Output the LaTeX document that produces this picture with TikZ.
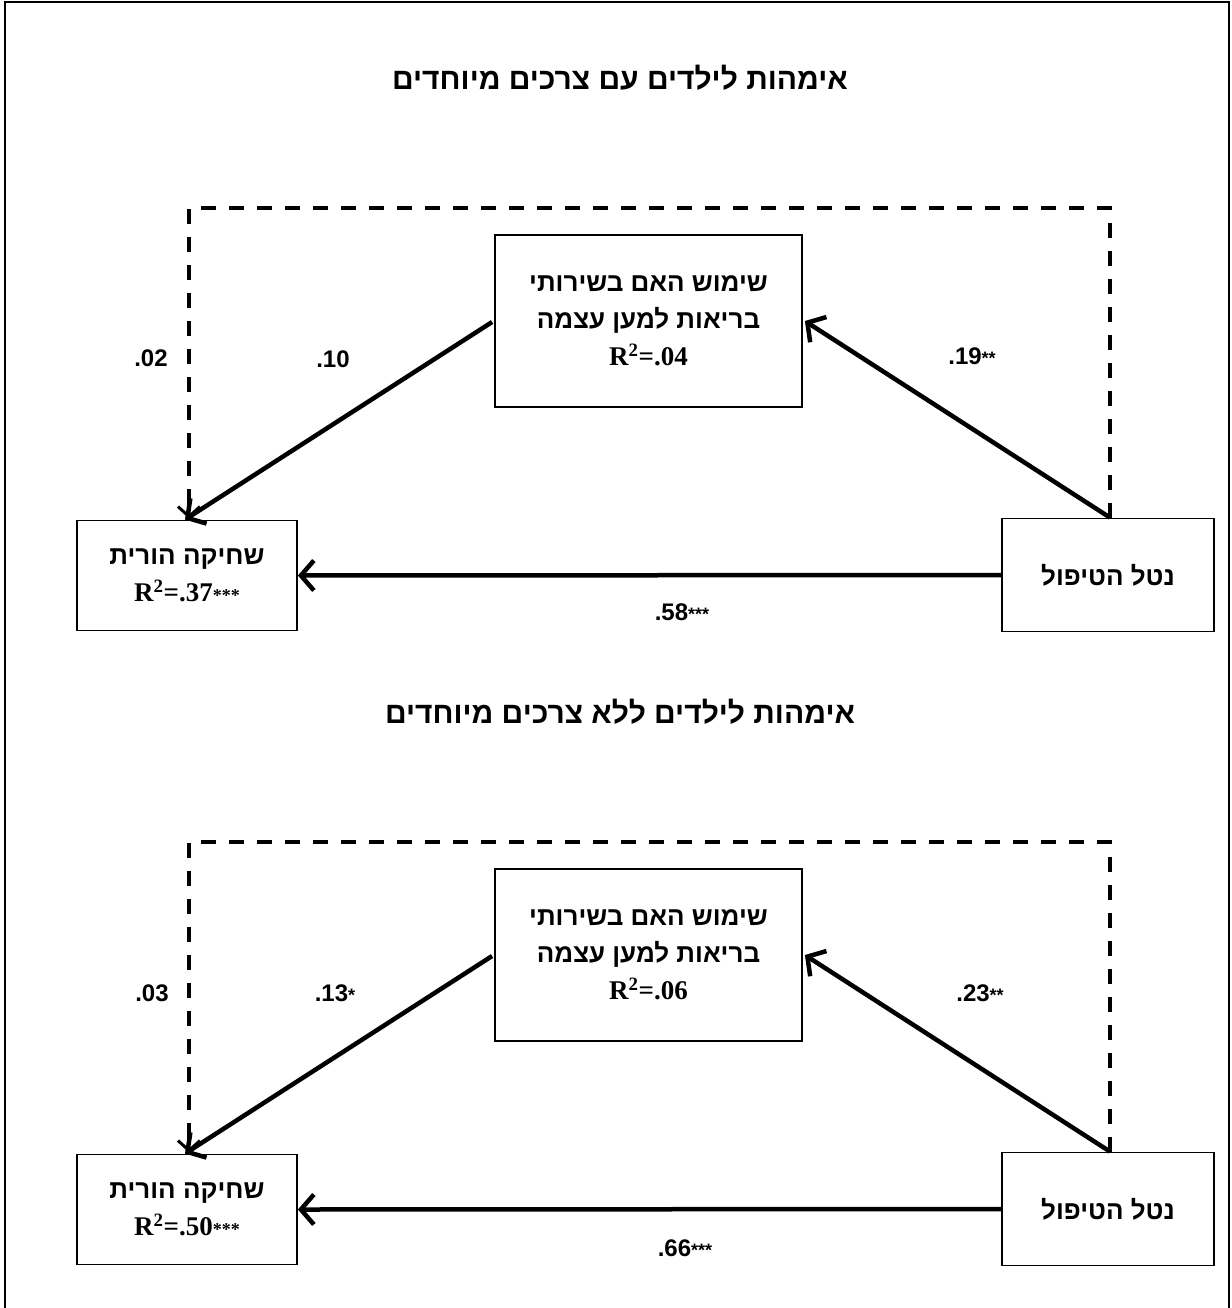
\documentclass[tikz,border=0pt]{standalone}
\usepackage{fontspec}
\usetikzlibrary{arrows.meta}
\TeXXeTstate=1
\setmainfont{Liberation Serif}
\newfontfamily\hebfont[Script=Hebrew,BoldFont={Liberation Sans Bold}]{Liberation Sans}
\newfontfamily\numfont{Liberation Sans}
\newcommand{\heb}[1]{\beginR #1\endR}
\newcommand{\stars}[1]{{\fontsize{18}{18}\selectfont #1}}
\newcommand{\rsq}[1]{{\rmfamily\bfseries\fontsize{27}{37}\selectfont R\textsuperscript{2}=#1}}
\tikzset{
  x=1pt, y=-1pt,
  box/.style={draw, line width=1.8pt, inner sep=0pt, align=center,
    font=\hebfont\bfseries\fontsize{26}{37}\selectfont},
  solidarrow/.style={line width=4.5pt, -{Straight Barb[length=13pt,width=30pt,line width=4.5pt]}},
  dasharrow/.style={line width=3.6pt, dash pattern=on 15pt off 13pt,
    -{Straight Barb[length=10pt,width=22pt,line width=3pt]}},
  lbl/.style={font=\numfont\bfseries\fontsize{24}{26}\selectfont},
  ttl/.style={font=\hebfont\bfseries\fontsize{30}{34}\selectfont},
  frame/.style={line width=1.8pt}
}
\begin{document}
\begin{tikzpicture}
\useasboundingbox (0,0) rectangle (1231,1308);
\fill[white] (0,0) rectangle (1231,1308);
\draw[frame] (5,1310) -- (5,2) -- (1229,2) -- (1229,1310);
% top panel
\begin{scope}
  \node[ttl] (ttitle) at (620,78) {\heb{אימהות לילדים עם צרכים מיוחדים}};
  \node[box, minimum width=307pt, minimum height=172pt] (tM) at (648.5,321)
    {\heb{שימוש האם בשירותי}\\ \heb{בריאות למען עצמה}\\ \rsq{.04}};
  \node[box, minimum width=220pt, minimum height=110pt] (tL) at (187,575.5)
    {\heb{שחיקה הורית}\\ \rsq{.37\stars{***}}};
  \node[box, minimum width=212pt, minimum height=113pt] (tR) at (1108,575)
    {\heb{נטל הטיפול}};
  \coordinate (tTR) at (1110,208);
  \coordinate (tTL) at (189,208);
  \draw[dasharrow] ([xshift=2pt]tR.north) -- (tTR) -- (tTL) -- ([xshift=2pt,yshift=1pt]tL.north);
  \draw[solidarrow] ([xshift=2pt]tR.north) -- ([xshift=2pt]tM.east);
  \draw[solidarrow] ([xshift=-2pt,yshift=-1pt]tM.west) -- ([xshift=-2pt]tL.north);
  \draw[solidarrow] (tR.west) -- (tL.east);
  \node[lbl] (tlc) at (151,358) {.02};
  \node[lbl] (tlb) at (333,359) {.10};
  \node[lbl] (tla) at (972,356) {.19\stars{**}};
  \node[lbl] (tld) at (682,612) {.58\stars{***}};
\end{scope}
% bottom panel
\begin{scope}[shift={(0,634)}]
  \node[ttl] (btitle) at (620,78) {\heb{אימהות לילדים ללא צרכים מיוחדים}};
  \node[box, minimum width=307pt, minimum height=172pt] (bM) at (648.5,321)
    {\heb{שימוש האם בשירותי}\\ \heb{בריאות למען עצמה}\\ \rsq{.06}};
  \node[box, minimum width=220pt, minimum height=110pt] (bL) at (187,575.5)
    {\heb{שחיקה הורית}\\ \rsq{.50\stars{***}}};
  \node[box, minimum width=212pt, minimum height=113pt] (bR) at (1108,575)
    {\heb{נטל הטיפול}};
  \coordinate (bTR) at (1110,208);
  \coordinate (bTL) at (189,208);
  \draw[dasharrow] ([xshift=2pt]bR.north) -- (bTR) -- (bTL) -- ([xshift=2pt,yshift=1pt]bL.north);
  \draw[solidarrow] ([xshift=2pt]bR.north) -- ([xshift=2pt]bM.east);
  \draw[solidarrow] ([xshift=-2pt,yshift=-1pt]bM.west) -- ([xshift=-2pt]bL.north);
  \draw[solidarrow] (bR.west) -- (bL.east);
  \node[lbl] (blc) at (152,359) {.03};
  \node[lbl] (blb) at (335,359) {.13\stars{*}};
  \node[lbl] (bla) at (980,359) {.23\stars{**}};
  \node[lbl] (bld) at (685,614) {.66\stars{***}};
\end{scope}
\end{tikzpicture}
\end{document}
